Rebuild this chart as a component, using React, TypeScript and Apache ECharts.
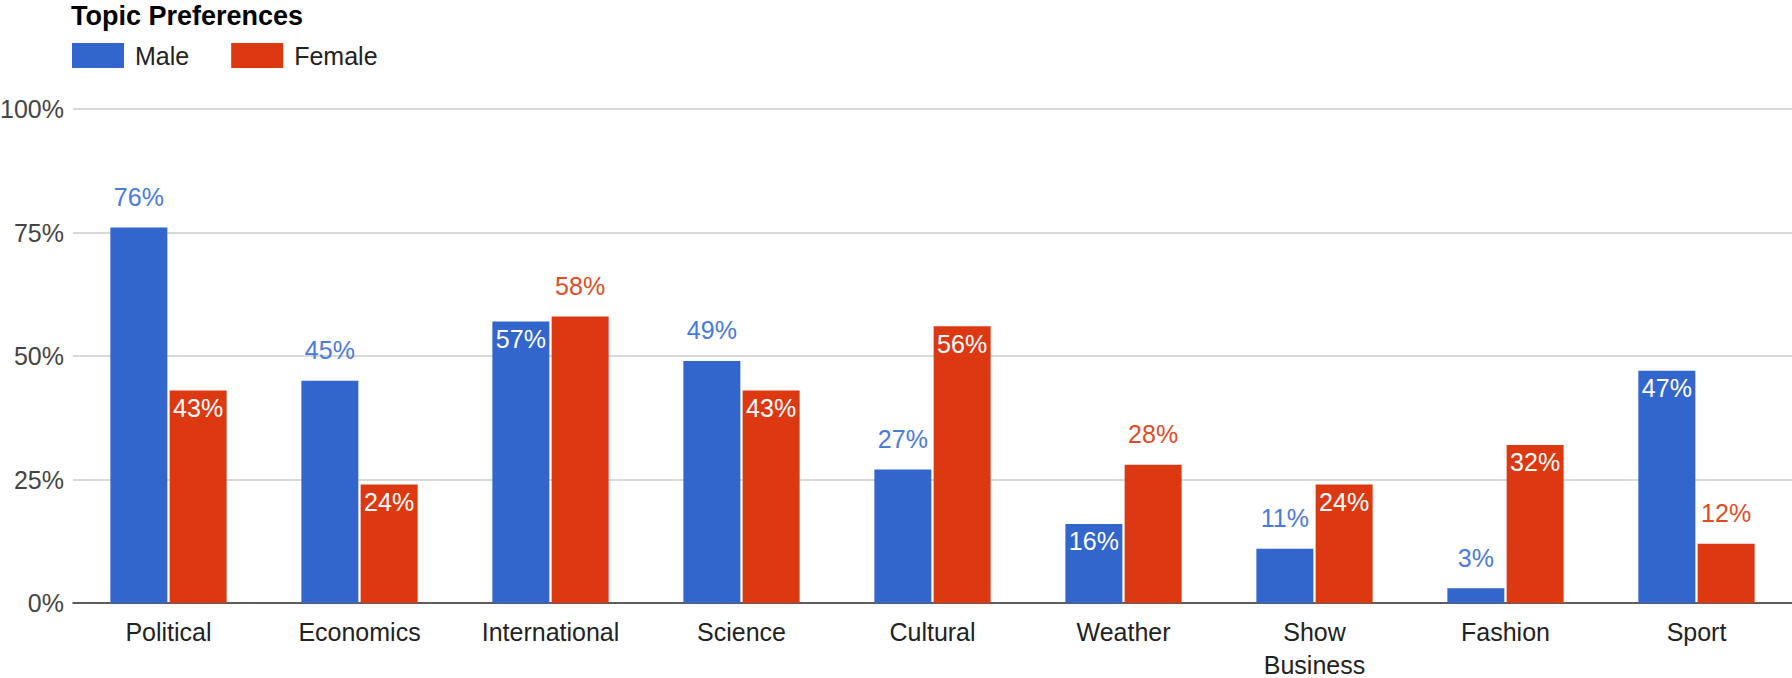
import React, { useEffect, useRef } from "react";
import * as echarts from "echarts";

const categories = ["Political", "Economics", "International", "Science", "Cultural", "Weather", "Show\nBusiness", "Fashion", "Sport"];
const maleValues = [76, 45, 57, 49, 27, 16, 11, 3, 47];
const femaleValues = [43, 24, 58, 43, 56, 28, 24, 32, 12];
// label placement as in the reference: true = inside the bar top, false = above the bar
const maleLabelInside = [false, false, true, false, false, true, false, false, true];
const femaleLabelInside = [true, true, false, true, true, false, true, true, false];
const yTicks = { min: 0, max: 100, interval: 25 };

const FONT = "Arial, 'Liberation Sans', sans-serif";
const BLUE = "#3366cc";
const RED = "#dc3912";
const BLUE_TEXT = "#4a7ada";
const RED_TEXT = "#e04b27";

function buildData(values: number[], inside: boolean[], outColor: string) {
  return values.map((v, i) => ({
    value: v,
    label: inside[i]
      ? { position: "insideTop", distance: 5, color: "#ffffff" }
      : { position: "top", distance: 18, color: outColor },
  }));
}

export default function App() {
  const ref = useRef<HTMLDivElement>(null);
  useEffect(() => {
    if (!ref.current) return;
    const chart = echarts.init(ref.current, undefined, { renderer: "svg" });
    const labelBase = {
      show: true,
      formatter: "{c}%",
      fontFamily: FONT,
      fontSize: 25,
    };
    chart.setOption({
      animation: false,
      backgroundColor: "#ffffff",
      title: {
        text: "Topic Preferences",
        left: 71,
        top: 2,
        padding: 0,
        textStyle: { fontFamily: FONT, fontSize: 27, fontWeight: "bold", color: "#000000" },
      },
      legend: {
        left: 72,
        top: 43,
        padding: 0,
        itemWidth: 52,
        itemHeight: 25,
        itemGap: 42,
        icon: "rect",
        textStyle: { fontFamily: FONT, fontSize: 25, color: "#222222", padding: [0, 0, 0, 6] },
        data: ["Male", "Female"],
      },
      grid: { left: 73, right: 0, top: 109, bottom: 75, containLabel: false, outerBoundsMode: "none" },
      xAxis: {
        type: "category",
        data: categories,
        axisLine: { show: true, lineStyle: { color: "#333333", width: 1.5 } },
        axisTick: { show: false },
        axisLabel: {
          fontFamily: FONT,
          fontSize: 25,
          color: "#222222",
          margin: 12,
          lineHeight: 33,
          interval: 0,
        },
      },
      yAxis: {
        type: "value",
        min: yTicks.min,
        max: yTicks.max,
        interval: yTicks.interval,
        axisLine: { show: false },
        axisTick: { show: false },
        splitLine: { lineStyle: { color: "#cccccc", width: 1.5 } },
        axisLabel: {
          formatter: "{value}%",
          fontFamily: FONT,
          fontSize: 25,
          color: "#444444",
          margin: 9,
        },
      },
      series: [
        {
          name: "Male",
          type: "bar",
          barWidth: 57,
          barGap: "4%",
          itemStyle: { color: BLUE },
          label: labelBase,
          data: buildData(maleValues, maleLabelInside, BLUE_TEXT),
        },
        {
          name: "Female",
          type: "bar",
          barWidth: 57,
          barGap: "4%",
          itemStyle: { color: RED },
          label: labelBase,
          data: buildData(femaleValues, femaleLabelInside, RED_TEXT),
        },
      ],
    });
    return () => chart.dispose();
  }, []);
  return (
    <div
      ref={ref}
      style={{ position: "fixed", left: 0, top: 0, width: 1792, height: 678, background: "#fff" }}
    />
  );
}
